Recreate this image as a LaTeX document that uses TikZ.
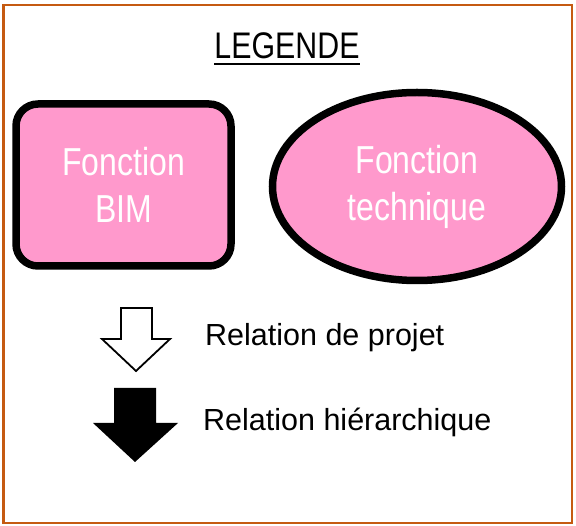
\documentclass[tikz,border=0pt]{standalone}
\usepackage{fontspec}
\usepackage{tikz}
\usetikzlibrary{shapes.geometric}
\setmainfont{Liberation Sans}
\newfontfamily\narrowfont[FakeStretch=0.82]{Liberation Sans}
\definecolor{framebrown}{RGB}{197,90,17}
\definecolor{bimpink}{RGB}{255,153,204}

\begin{document}
\begin{tikzpicture}[x=1pt,y=-1pt,
   fonction/.style={draw=black,line width=7.5pt,fill=bimpink,text=white,align=center,
      font=\narrowfont\fontsize{39}{47}\selectfont,inner sep=0pt},
   legtext/.style={anchor=base west,inner sep=0pt,font=\fontsize{30.5}{37}\selectfont}]
   \useasboundingbox (0,0) rectangle (576,526);
   \draw[framebrown,line width=2.5pt] (3.5,5) rectangle (572,523);

   \node[anchor=base,inner sep=0pt,font=\narrowfont\fontsize{37}{44}\selectfont] (legende) at (287,59) {LEGENDE};
   \draw[line width=2.5pt] ([yshift=-5pt]legende.base west) -- ([yshift=-5pt]legende.base east);

   \node[fonction,rectangle,rounded corners=22pt,minimum width=215pt,minimum height=162pt] (bim) at (123.5,185) {Fonction\\BIM};
   \node[fonction,ellipse,minimum width=289pt,minimum height=188pt] (tech) at (417,186.5) {Fonction\\technique};

   % relation de projet
   \draw[line width=1.8pt,fill=white,line join=miter] (121,308) -- (152,308) -- (152,339) -- (170,339)
      -- (136,371) -- (102,339) -- (121,339) -- cycle;
   \node[legtext] (projet) at (205,346) {Relation de projet};

   % relation hierarchique
   \fill (114,388) -- (156,388) -- (156,423) -- (178,423) -- (135,462) -- (93,423) -- (114,423) -- cycle;
   \node[legtext] (hierarchie) at (203,431) {Relation hiérarchique};
\end{tikzpicture}
\end{document}
